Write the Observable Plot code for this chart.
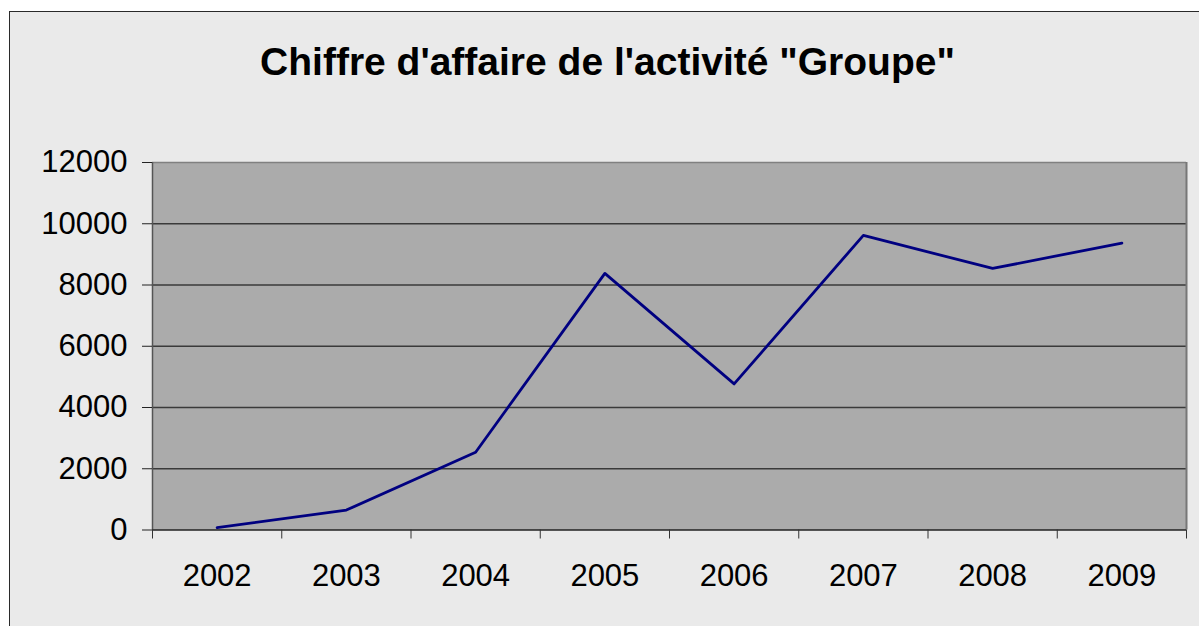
<!DOCTYPE html>
<html>
<head>
<meta charset="utf-8">
<script src="https://cdn.jsdelivr.net/npm/d3@7"></script>
<script src="https://cdn.jsdelivr.net/npm/@observablehq/plot@0.6"></script>
<style>
  html, body { margin: 0; padding: 0; background: #ffffff; width: 1199px; height: 626px; overflow: hidden; }
  #frame { position: absolute; left: 9px; top: 11px; width: 1300px; height: 700px; border: 1.5px solid #2a2a2a; background: #eaeaea; }
  #title { position: absolute; left: 0; top: 42px; width: 1215px; text-align: center; font-family: Arial, "Liberation Sans", sans-serif; font-weight: bold; font-size: 39px; line-height: 39px; color: #000; white-space: nowrap; }
  #chart { position: absolute; left: 0; top: 100px; }
</style>
</head>
<body>
<div id="frame"></div>
<div id="title">Chiffre d'affaire de l'activité "Groupe"</div>
<div id="chart"></div>
<script>
const categories = ["2002", "2003", "2004", "2005", "2006", "2007", "2008", "2009"];
const values = [80, 650, 2540, 8380, 4770, 9620, 8540, 9370];
const yTicks = [0, 2000, 4000, 6000, 8000, 10000, 12000];

const data = categories.map((c, i) => ({i, year: c, value: values[i]}));
const centers = categories.map((c, i) => i);
const bounds = d3.range(-0.5, categories.length, 1);

const chart = Plot.plot({
  width: 1199,
  height: 526,
  marginLeft: 152,
  marginRight: 13,
  marginTop: 62,
  marginBottom: 96.5,
  style: {fontFamily: "Arial, 'Liberation Sans', sans-serif", fontSize: "31px", background: "transparent", color: "#000"},
  x: {type: "linear", domain: [-0.5, categories.length - 0.5]},
  y: {domain: [0, 12000]},
  marks: [
    Plot.frame({fill: "#ababab", stroke: null}),
    Plot.ruleY(yTicks.slice(1, -1), {stroke: "#3a3a3a", strokeWidth: 1.3}),
    Plot.ruleY([12000], {stroke: "#808080", strokeWidth: 1.5}),
    Plot.ruleX([categories.length - 0.5], {stroke: "#777777", strokeWidth: 2}),
    Plot.ruleX([-0.5], {stroke: "#555555", strokeWidth: 1.5}),
    Plot.ruleY([0], {stroke: "#222222", strokeWidth: 1.5}),
    Plot.axisY({ticks: yTicks, tickSize: 10, tickPadding: 15, tickFormat: d => String(d), stroke: "#222", label: null}),
    Plot.axisX({ticks: bounds, tickSize: 9, tickFormat: () => "", stroke: "#333", label: null}),
    Plot.axisX({ticks: centers, tickSize: 0, tickPadding: 34, tickFormat: i => categories[i], label: null}),
    Plot.line(data, {x: "i", y: "value", stroke: "#000080", strokeWidth: 2.8})
  ]
});
document.getElementById("chart").appendChild(chart);
</script>
</body>
</html>
